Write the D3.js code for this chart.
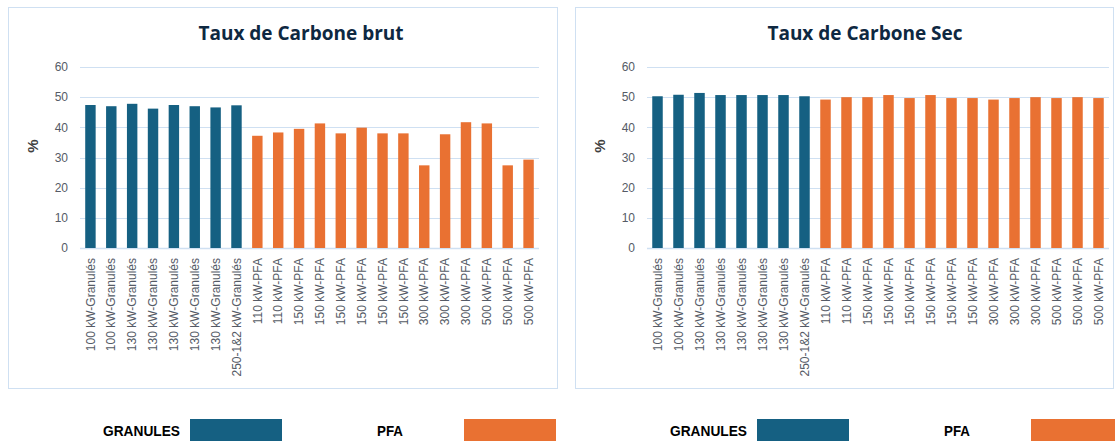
<!DOCTYPE html>
<html lang="fr">
<head>
<meta charset="utf-8">
<title>Taux de Carbone</title>
<script src="https://d3js.org/d3.v7.min.js"></script>
<style>
  body { margin: 0; background: #fff; }
  svg { display: block; }
  .tick-text { font-family: "Liberation Sans", Arial, sans-serif; font-size: 12px; fill: #555b66; }
  .title { font-family: "Open Sans", Roboto, sans-serif; font-weight: 700; font-size: 19px; fill: #0e2841; }
  .ylab { font-family: "Liberation Sans", Arial, sans-serif; font-weight: 700; font-size: 15px; fill: #404040; }
  .legend-text { font-family: "Liberation Sans", Arial, sans-serif; font-weight: 700; font-size: 15px; fill: #000; }
</style>
</head>
<body>
<div id="chart"></div>
<script>
// categories (x axis)
const categories = [
  "100 kW-Granulés", "100 kW-Granulés", "130 kW-Granulés", "130 kW-Granulés",
  "130 kW-Granulés", "130 kW-Granulés", "130 kW-Granulés", "250-1&2 kW-Granulés",
  "110 kW-PFA", "110 kW-PFA", "150 kW-PFA", "150 kW-PFA", "150 kW-PFA", "150 kW-PFA",
  "150 kW-PFA", "150 kW-PFA", "300 kW-PFA", "300 kW-PFA", "300 kW-PFA",
  "500 kW-PFA", "500 kW-PFA", "500 kW-PFA"
];
// fuel type of each bar
const groups = [
  "GRANULES", "GRANULES", "GRANULES", "GRANULES", "GRANULES", "GRANULES", "GRANULES", "GRANULES",
  "PFA", "PFA", "PFA", "PFA", "PFA", "PFA", "PFA", "PFA", "PFA", "PFA", "PFA", "PFA", "PFA", "PFA"
];
// Taux de Carbone brut (%)
const brutValues = [47.4, 47.0, 47.8, 46.2, 47.4, 47.0, 46.6, 47.3,
  37.2, 38.3, 39.5, 41.3, 38.0, 39.9, 38.0, 38.0, 27.4, 37.7, 41.7, 41.3, 27.4, 29.3];
// Taux de Carbone sec (%)
const secValues = [50.3, 50.8, 51.4, 50.7, 50.7, 50.7, 50.7, 50.3,
  49.2, 50.0, 50.0, 50.7, 49.7, 50.7, 49.7, 49.7, 49.2, 49.7, 50.0, 49.7, 50.0, 49.7];
const yTicks = [0, 10, 20, 30, 40, 50, 60];
const legendNames = ["GRANULES", "PFA"];

const W = 1115, H = 441;
const color = d3.scaleOrdinal().domain(legendNames).range(["#156082", "#e97132"]);
const lineColor = "#cfe0f2";

const svg = d3.select("#chart").append("svg")
  .attr("width", W).attr("height", H);

// y scale shared by both panels
const y = d3.scaleLinear().domain([0, 60]).range([248, 67]);

function drawPanel(p) {
  const g = svg.append("g");

  // panel border
  g.append("rect")
    .attr("x", p.x0 + 0.5).attr("y", 7.5)
    .attr("width", p.x1 - p.x0).attr("height", 381)
    .attr("fill", "none").attr("stroke", lineColor);

  g.append("text").attr("class", "title")
    .attr("x", p.titleX).attr("y", 40)
    .attr("text-anchor", "middle")
    .text(p.title);

  const x = d3.scaleBand()
    .domain(d3.range(categories.length))
    .range([p.plotX0, p.plotX1])
    .paddingInner(0.5).paddingOuter(0.25);

  // gridlines
  g.append("g").selectAll("line")
    .data(yTicks)
    .join("line")
    .attr("x1", p.plotX0).attr("x2", p.plotX1)
    .attr("y1", d => Math.round(y(d)) + 0.5).attr("y2", d => Math.round(y(d)) + 0.5)
    .attr("stroke", lineColor).attr("stroke-width", d => d === 0 ? 1.5 : 1);

  // y tick labels
  g.append("g").selectAll("text")
    .data(yTicks)
    .join("text")
    .attr("class", "tick-text")
    .attr("x", p.plotX0 - 12).attr("y", d => y(d))
    .attr("dy", "0.35em")
    .attr("text-anchor", "end")
    .text(d => d);

  // bars
  g.append("g").selectAll("rect")
    .data(p.values)
    .join("rect")
    .attr("x", (d, i) => x(i))
    .attr("width", x.bandwidth())
    .attr("y", d => y(d))
    .attr("height", d => y(0) - y(d))
    .attr("fill", (d, i) => color(groups[i]));

  // x labels, rotated
  g.append("g").selectAll("text")
    .data(categories)
    .join("text")
    .attr("class", "tick-text")
    .attr("text-anchor", "end")
    .attr("dy", "0.35em")
    .attr("transform", (d, i) => "translate(" + (x(i) + x.bandwidth() / 2) + ",258) rotate(-90)")
    .text(d => d);

  // y axis title
  g.append("text").attr("class", "ylab")
    .attr("text-anchor", "middle")
    .attr("transform", "translate(" + (p.x0 + 30) + ",146) rotate(-90)")
    .text("%");

  // legend under the panel (narrow bold text)
  const lg = svg.append("g");
  lg.append("text").attr("class", "legend-text")
    .attr("x", p.x0 + 95).attr("y", 436)
    .attr("textLength", 77).attr("lengthAdjust", "spacingAndGlyphs")
    .text(legendNames[0]);
  lg.append("rect")
    .attr("x", p.x0 + 182).attr("y", 419).attr("width", 92).attr("height", 22)
    .attr("fill", color(legendNames[0]));
  lg.append("text").attr("class", "legend-text")
    .attr("x", p.x0 + 369).attr("y", 436)
    .attr("textLength", 26).attr("lengthAdjust", "spacingAndGlyphs")
    .text(legendNames[1]);
  lg.append("rect")
    .attr("x", p.x0 + 456).attr("y", 419).attr("width", 92).attr("height", 22)
    .attr("fill", color(legendNames[1]));
}

drawPanel({ x0: 8, x1: 557, plotX0: 80, plotX1: 539, titleX: 301, title: "Taux de Carbone brut", values: brutValues });
drawPanel({ x0: 575, x1: 1113, plotX0: 647, plotX1: 1109, titleX: 865, title: "Taux de Carbone Sec", values: secValues });
</script>
</body>
</html>
